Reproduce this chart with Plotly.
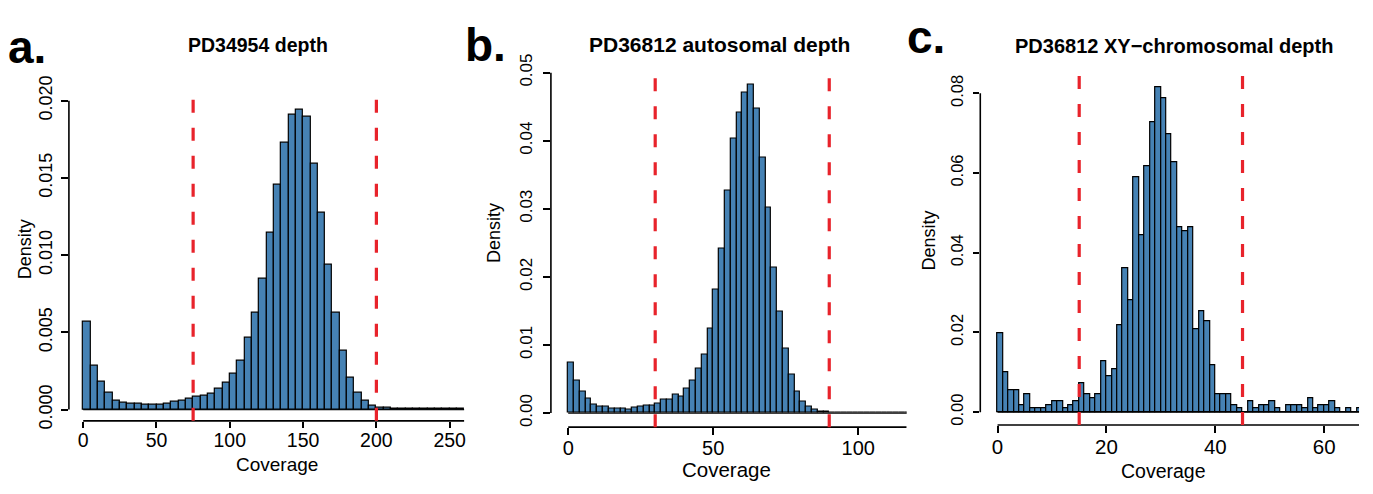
import plotly.graph_objects as go

# ---------------- data ----------------
# Panel a: PD34954 depth (bin width 5)
a_bin_width = 5
a_bin_starts = list(range(0, 260, 5))
a_density = [0.00567, 0.00283, 0.00177, 0.00108, 0.00059, 0.00045, 0.00035, 0.00035,
             0.00028, 0.00028, 0.00030, 0.00035, 0.00049, 0.00057, 0.00067, 0.00083,
             0.00091, 0.00104, 0.00134, 0.00173, 0.00232, 0.00313, 0.00463, 0.00630,
             0.00850, 0.01142, 0.01453, 0.01727, 0.01910, 0.01945, 0.01894, 0.01593,
             0.01276, 0.00940, 0.00630, 0.00378, 0.00204, 0.00112, 0.00055, 0.00024,
             0.00013, 0.00010, 0.00007, 0.00006, 0.00005, 0.00005, 0.00004, 0.00004,
             0.00003, 0.00003, 0.00003, 0.00003]
a_cutoffs = [75, 200]
a_xticks = [0, 50, 100, 150, 200, 250]
a_yticks = [0.000, 0.005, 0.010, 0.015, 0.020]
a_yticklabels = ["0.000", "0.005", "0.010", "0.015", "0.020"]
a_title = "PD34954 depth"

# Panel b: PD36812 autosomal depth (bin width 2)
b_bin_width = 2
b_bin_starts = list(range(0, 118, 2))
b_density = [0.00738, 0.00470, 0.00314, 0.00212, 0.00129, 0.00101, 0.00101, 0.00060,
             0.00060, 0.00069, 0.00046, 0.00078, 0.00092, 0.00115, 0.00115, 0.00143,
             0.00203, 0.00203, 0.00272, 0.00249, 0.00360, 0.00475, 0.00650, 0.00858,
             0.01245, 0.01810, 0.02410, 0.03264, 0.04025, 0.04408, 0.04703, 0.04818,
             0.04477, 0.03748, 0.03011, 0.02135, 0.01490, 0.00950, 0.00563, 0.00314,
             0.00170, 0.00092, 0.00046, 0.00028, 0.00020, 0.00014, 0.00012, 0.00010,
             0.00009, 0.00008, 0.00008, 0.00007, 0.00007, 0.00006, 0.00006, 0.00006,
             0.00005, 0.00005, 0.00005]
b_cutoffs = [30, 90]
b_xticks = [0, 50, 100]
b_yticks = [0.00, 0.01, 0.02, 0.03, 0.04, 0.05]
b_yticklabels = ["0.00", "0.01", "0.02", "0.03", "0.04", "0.05"]
b_title = "PD36812 autosomal depth"

# Panel c: PD36812 XY-chromosomal depth (bin width 1)
c_bin_width = 1
c_bin_starts = list(range(0, 67))
c_density = [0.0199, 0.0100, 0.0054, 0.0054, 0.0018, 0.0045, 0.0009, 0.0009, 0.0009, 0.0018,
             0.0027, 0.0027, 0.0009, 0.0018, 0.0027, 0.0072, 0.0045, 0.0036, 0.0045, 0.0127,
             0.0090, 0.0108, 0.0218, 0.0362, 0.0282, 0.0590, 0.0445, 0.0617, 0.0727, 0.0816,
             0.0789, 0.0698, 0.0626, 0.0463, 0.0453, 0.0463, 0.0209, 0.0254, 0.0227, 0.0117,
             0.0045, 0.0045, 0.0045, 0.0018, 0.0009, 0.0000, 0.0027, 0.0009, 0.0018, 0.0018,
             0.0027, 0.0009, 0.0000, 0.0018, 0.0018, 0.0018, 0.0009, 0.0036, 0.0009, 0.0018,
             0.0018, 0.0027, 0.0009, 0.0000, 0.0009, 0.0000, 0.0009]
c_cutoffs = [15, 45]
c_xticks = [0, 20, 40, 60]
c_yticks = [0.00, 0.02, 0.04, 0.06, 0.08]
c_yticklabels = ["0.00", "0.02", "0.04", "0.06", "0.08"]
c_title = "PD36812 XY\u2212chromosomal depth"

x_label = "Coverage"
y_label = "Density"
panel_letters = ["a.", "b.", "c."]

# ---------------- styling / layout ----------------
W, H = 1373, 494
PAGE_OFFSET = 8  # the page body adds an 8px margin around the figure
FONT = "Liberation Sans, Arial, Helvetica, sans-serif"
BAR_FILL = "#4682B4"
RED = "#E8232B"


def fx(px):
    return (px - PAGE_OFFSET) / W


def fy(py):
    return 1 - (py - PAGE_OFFSET) / H


panels = [
    dict(starts=a_bin_starts, bw=a_bin_width, dens=a_density, cut=a_cutoffs,
         xt=a_xticks, yt=a_yticks, ytl=a_yticklabels, title=a_title,
         xpx=(69, 465), ypx=(80, 424.3), xr=[-9.74, 260], yr=[-0.00073, 0.02026],
         xfs=19.5, yfs=18, tfs=19.5, lfs=19, xso=-5, yso=2,
         title_pos=(258, 25), xlab_pos=(277, 471), ylab_pos=(25, 242), letter_pos=(6, 27)),
    dict(starts=b_bin_starts, bw=b_bin_width, dens=b_density, cut=b_cutoffs,
         xt=b_xticks, yt=b_yticks, ytl=b_yticklabels, title=b_title,
         xpx=(551.7, 908), ypx=(54.3, 431), xr=[-5.96, 116.7], yr=[-0.00207, 0.0500],
         xfs=20, yfs=17, tfs=21, lfs=20.5, xso=-4, yso=5,
         title_pos=(720.5, 24.5), xlab_pos=(728, 475.5), ylab_pos=(494.5, 225), letter_pos=(464, 25)),
    dict(starts=c_bin_starts, bw=c_bin_width, dens=c_density, cut=c_cutoffs,
         xt=c_xticks, yt=c_yticks, ytl=c_yticklabels, title=c_title,
         xpx=(981.7, 1361), ypx=(56, 428.7), xr=[-3.17, 66.4], yr=[-0.00323, 0.0848],
         xfs=20.5, yfs=16.5, tfs=20, lfs=19.5, xso=-3, yso=3,
         title_pos=(1176, 26), xlab_pos=(1165, 477.5), ylab_pos=(930, 233), letter_pos=(906, 17)),
]

fig = go.Figure()
shapes = []
annotations = []
layout = {}

for i, p in enumerate(panels):
    sfx = "" if i == 0 else str(i + 1)
    xa, ya = "x" + sfx, "y" + sfx
    # bars
    fig.add_trace(go.Bar(
        x=p["starts"], y=p["dens"], width=p["bw"], offset=0,
        marker=dict(color=BAR_FILL, line=dict(color="black", width=1.2)),
        xaxis=xa, yaxis=ya, showlegend=False, hoverinfo="x+y"))
    # axes
    layout["xaxis" + sfx] = dict(
        domain=[fx(p["xpx"][0]), fx(p["xpx"][1])], anchor=ya, range=p["xr"],
        showline=False, showgrid=False, zeroline=False,
        ticks="outside", ticklen=6.5, tickwidth=1.6, tickcolor="black",
        tickmode="array", tickvals=p["xt"], ticktext=[str(v) for v in p["xt"]],
        tickfont=dict(family=FONT, size=p["xfs"], color="black"),
        ticklabelstandoff=p["xso"], fixedrange=True)
    layout["yaxis" + sfx] = dict(
        domain=[fy(p["ypx"][1]), fy(p["ypx"][0])], anchor=xa, range=p["yr"],
        showline=False, showgrid=False, zeroline=False,
        ticks="outside", ticklen=6.5, tickwidth=1.6, tickcolor="black",
        tickmode="array", tickvals=p["yt"], ticktext=p["ytl"], tickangle=-90,
        tickfont=dict(family=FONT, size=p["yfs"], color="black"),
        ticklabelstandoff=p["yso"], fixedrange=True)
    # R-style detached axis lines
    shapes.append(dict(type="line", xref=xa, yref=ya + " domain",
                       x0=p["xt"][0], x1=p["xr"][1], y0=0, y1=0,
                       line=dict(color="black", width=1.6), layer="above"))
    shapes.append(dict(type="line", xref=xa + " domain", yref=ya,
                       x0=0, x1=0, y0=p["yt"][0], y1=p["yt"][-1],
                       line=dict(color="black", width=1.6), layer="above"))
    # histogram baseline (bottom borders of empty bins)
    shapes.append(dict(type="line", xref=xa, yref=ya,
                       x0=p["starts"][0], x1=p["starts"][-1] + p["bw"], y0=0, y1=0,
                       line=dict(color="black", width=1.2), layer="below"))
    # red dashed cut-offs
    for cval in p["cut"]:
        shapes.append(dict(type="line", xref=xa, yref=ya + " domain",
                           x0=cval, x1=cval, y0=0, y1=1,
                           line=dict(color=RED, width=3.2, dash="13px,15px"), layer="above"))
    # texts
    tx, ty = p["title_pos"]
    annotations.append(dict(text="<b>" + p["title"] + "</b>", x=fx(tx), y=fy(ty),
                            xref="paper", yref="paper", xanchor="center", yanchor="middle",
                            showarrow=False, font=dict(family=FONT, size=p["tfs"], color="black")))
    lx, ly = p["xlab_pos"]
    annotations.append(dict(text=x_label, x=fx(lx), y=fy(ly),
                            xref="paper", yref="paper", xanchor="center", yanchor="middle",
                            showarrow=False, font=dict(family=FONT, size=p["lfs"], color="black")))
    vx, vy = p["ylab_pos"]
    annotations.append(dict(text=y_label, x=fx(vx), y=fy(vy), textangle=-90,
                            xref="paper", yref="paper", xanchor="center", yanchor="middle",
                            showarrow=False, font=dict(family=FONT, size=18, color="black")))
    gx, gy = p["letter_pos"]
    annotations.append(dict(text="<b>" + panel_letters[i] + "</b>", x=fx(gx), y=fy(gy),
                            xref="paper", yref="paper", xanchor="left", yanchor="middle",
                            showarrow=False, font=dict(family=FONT, size=46, color="black")))

fig.update_layout(
    width=W, height=H, autosize=False,
    margin=dict(l=0, r=0, t=0, b=0, pad=0),
    paper_bgcolor="white", plot_bgcolor="white",
    shapes=shapes, annotations=annotations, bargap=0,
    **layout)

fig.write_html("out.html")
